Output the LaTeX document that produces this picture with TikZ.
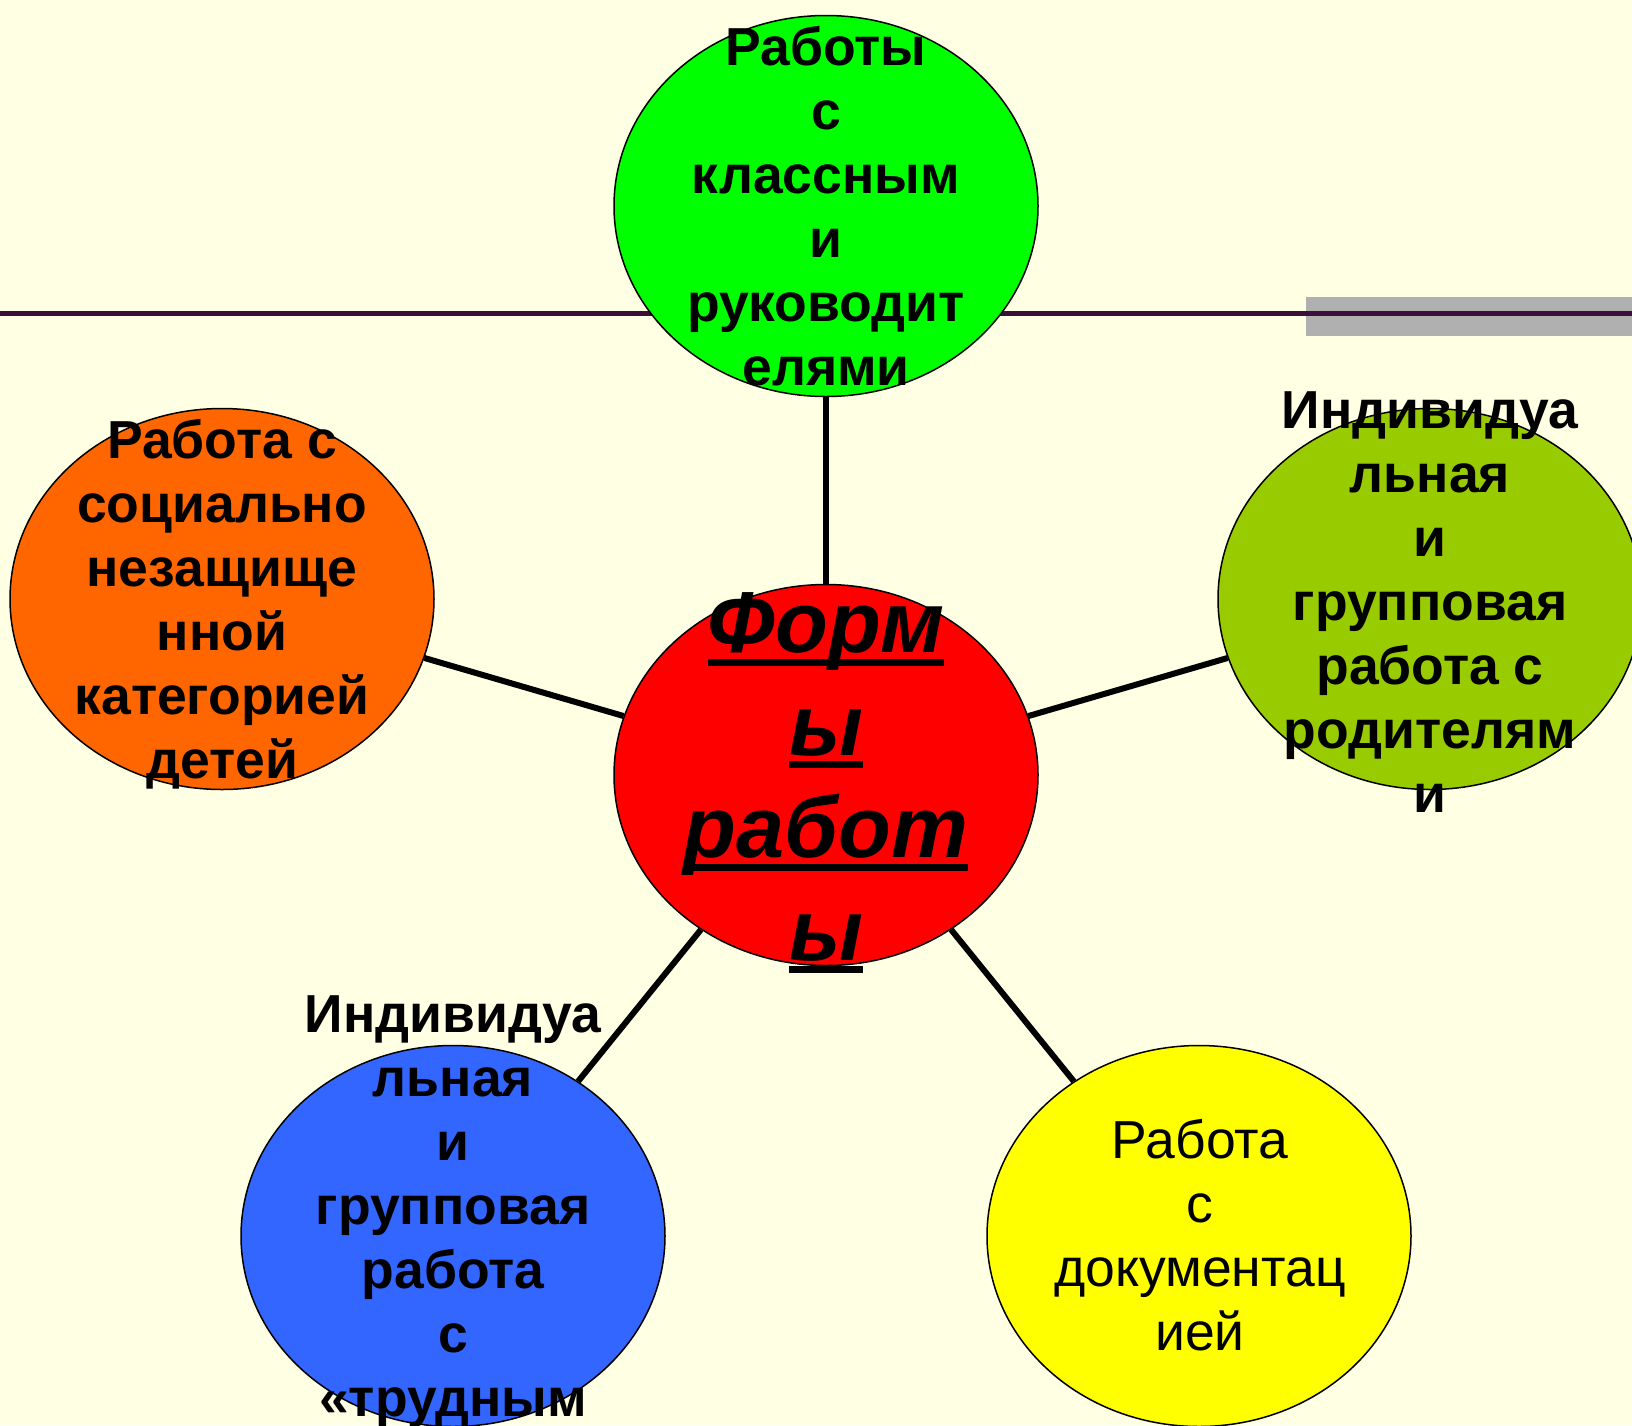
\documentclass[tikz,border=0pt]{standalone}
\usepackage{fontspec}
\setmainfont{Liberation Sans}
\usetikzlibrary{shapes.geometric}
\definecolor{bgc}{HTML}{FFFFE3}
\definecolor{cgreen}{HTML}{00FF00}
\definecolor{cred}{HTML}{FF0000}
\definecolor{corange}{HTML}{FF6600}
\definecolor{colive}{HTML}{99CC00}
\definecolor{cblue}{HTML}{3366FF}
\definecolor{cyellow}{HTML}{FFFF00}
\definecolor{cgray}{HTML}{B0B0B0}
\definecolor{cpurple}{HTML}{3C0E3C}
\newcommand\tstr[1]{\rule{0pt}{#1}}
\newcommand\bstr[1]{\rule[-#1]{0pt}{#1}}
\newcommand\ulw[1]{\setbox0=\hbox{#1}\rlap{\rule[-13pt]{\wd0}{7pt}}\box0}
\tikzset{
  ell/.style={ellipse, draw=black, line width=1.5pt, minimum width=424pt, minimum height=381pt, inner sep=0pt},
  conn/.style={draw=black, line width=6pt},
  lbl/.style={align=center, inner sep=0pt, font=\fontsize{53.5}{64}\selectfont\bfseries},
  lblreg/.style={align=center, inner sep=0pt, font=\fontsize{53.5}{64}\selectfont},
  lblbig/.style={align=center, inner sep=0pt, font=\fontsize{86.5}{102.5}\selectfont\bfseries\itshape}
}
\begin{document}
\begin{tikzpicture}[x=1pt,y=-1pt]
\clip (0,0) rectangle (1632,1425);
\fill[bgc] (0,0) rectangle (1632,1425);
% decorative bar and rule
\fill[cgray] (1306,297) rectangle (1632,336);
\draw[cpurple, line width=4.5pt] (0,313.5) -- (1632,313.5);
% ellipses
\node[ell, fill=cgreen]  (g) at (826,206)  {};
\node[ell, fill=cred]    (c) at (826,775)  {};
\node[ell, fill=corange] (o) at (222,599)  {};
\node[ell, fill=colive]  (v) at (1430,599) {};
\node[ell, fill=cblue]   (b) at (453,1236) {};
\node[ell, fill=cyellow] (y) at (1199,1236) {};
% connectors
\draw[conn] (c) -- (g);
\draw[conn] (c) -- (o);
\draw[conn] (c) -- (v);
\draw[conn] (c) -- (b);
\draw[conn] (c) -- (y);
% texts
\node[lbl] (tg) at (826,225) {\tstr{50pt}Работы\\с\\классным\\и\\руководит\\елями\bstr{50pt}};
\node[lbl] (to) at (222,618) {\tstr{50pt}Работа с\\социально\\незащище\\нной\\категорией\\детей\bstr{50pt}};
\node[lbl] (tv) at (1430,620) {\tstr{50pt}Индивидуа\\льная\\и\\групповая\\работа с\\родителям\\и\bstr{50pt}};
\node[lbl] (tb) at (453,1224) {\tstr{50pt}Индивидуа\\льная\\и\\групповая\\работа\\с\\«трудным\bstr{50pt}};
\node[lblreg] (ty) at (1200,1254) {\tstr{50pt}Работа\\с\\документац\\ией\bstr{50pt}};
\node[lblbig] (tc) at (826,806.5) {\tstr{80pt}\ulw{Форм}\\\ulw{ы}\\\ulw{работ}\\\ulw{ы}\bstr{80pt}};
\end{tikzpicture}
\end{document}
